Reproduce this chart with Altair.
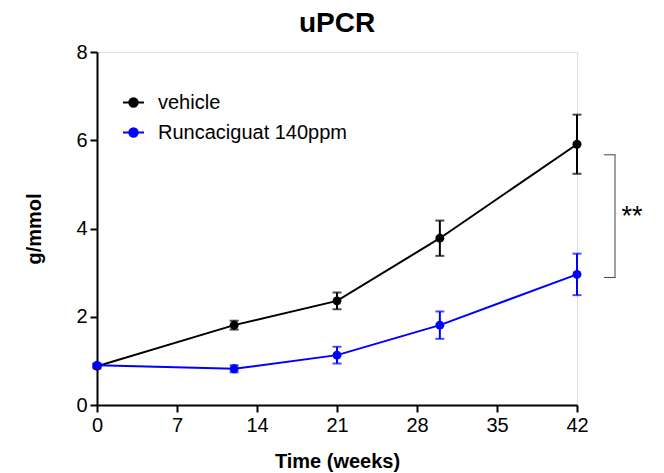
import altair as alt
import pandas as pd

weeks = [0, 12, 21, 30, 42]
vehicle_mean = [0.88, 1.81, 2.36, 3.78, 5.91]
vehicle_sem = [0.05, 0.10, 0.19, 0.40, 0.67]
runc_mean = [0.90, 0.82, 1.13, 1.81, 2.96]
runc_sem = [0.04, 0.08, 0.19, 0.31, 0.47]
groups = ["vehicle", "Runcaciguat 140ppm"]
colors = ["#000000", "#0000ff"]
x_ticks = [0, 7, 14, 21, 28, 35, 42]
y_ticks = [0, 2, 4, 6, 8]
bracket_y = [2.89, 5.67]
sig_label = "**"
sig_y = 4.25

rows = []
for g, means, sems in [(groups[0], vehicle_mean, vehicle_sem), (groups[1], runc_mean, runc_sem)]:
    for w, m, s in zip(weeks, means, sems):
        rows.append({"week": w, "value": m, "lo": m - s, "hi": m + s, "group": g})
df = pd.DataFrame(rows)

FONT = "Liberation Sans"
sym_path = "M-1,0H1M-0.4,0A0.4,0.4,0,1,1,0.4,0A0.4,0.4,0,1,1,-0.4,0Z"

xs = alt.Scale(domain=[0, 42], nice=False, zero=False)
ys = alt.Scale(domain=[0, 8], nice=False)
cscale = alt.Scale(domain=groups, range=colors)
legend = alt.Legend(
    title=None,
    orient="none",
    legendX=25,
    legendY=39,
    padding=0,
    symbolType=sym_path,
    symbolSize=441,
    symbolStrokeWidth=2,
    symbolOpacity=1,
    labelFont=FONT,
    labelFontSize=20,
    labelColor="#000000",
    labelOffset=13,
    labelLimit=400,
    rowPadding=8,
)
color = alt.Color("group:N", scale=cscale, sort=groups, legend=legend)

x_enc = alt.X(
    "week:Q",
    scale=xs,
    title="Time (weeks)",
    axis=alt.Axis(values=x_ticks, grid=False, domainColor="black", domainWidth=2,
                  tickColor="black", tickWidth=2, tickSize=7, labelFont=FONT, labelFontSize=20,
                  labelColor="black", titleFont=FONT, titleFontSize=20, titleFontWeight="bold",
                  titleColor="black", labelPadding=3, titlePadding=16, labelFlush=False),
)
y_enc = alt.Y(
    "value:Q",
    scale=ys,
    title="g/mmol",
    axis=alt.Axis(values=y_ticks, grid=False, domainColor="black", domainWidth=2,
                  tickColor="black", tickWidth=2, tickSize=7, labelFont=FONT, labelFontSize=20,
                  labelColor="black", titleFont=FONT, titleFontSize=20, titleFontWeight="bold",
                  titleColor="black", labelPadding=3, titlePadding=31),
)

base = alt.Chart(df)
lines = base.mark_line(strokeWidth=2).encode(x=x_enc, y=y_enc, color=color)
err = base.mark_rule(strokeWidth=2).encode(x="week:Q", y="lo:Q", y2="hi:Q", color=color)
cap_lo = base.mark_tick(orient="horizontal", size=9, thickness=2).encode(
    x="week:Q", y="lo:Q", color=color)
cap_hi = base.mark_tick(orient="horizontal", size=9, thickness=2).encode(
    x="week:Q", y="hi:Q", color=color)
pts = base.mark_circle(size=80, opacity=1).encode(x="week:Q", y="value:Q", color=color)

bdf = pd.DataFrame({"y": bracket_y})
bracket_v = alt.Chart(pd.DataFrame({"y": [bracket_y[0]], "y2": [bracket_y[1]]})).mark_rule(
    color="#444444", strokeWidth=1, clip=False).encode(
    x=alt.value(518), y="y:Q", y2="y2:Q")
bracket_h = alt.Chart(bdf).mark_rule(color="#444444", strokeWidth=1, clip=False).encode(
    x=alt.value(507), x2=alt.value(518.5), y="y:Q")
sig = alt.Chart(pd.DataFrame({"y": [sig_y], "t": [sig_label]})).mark_text(
    font=FONT, fontSize=27, color="black", align="center", baseline="middle", clip=False).encode(
    x=alt.value(535), y="y:Q", text="t:N")

chart = alt.layer(lines, err, cap_lo, cap_hi, pts, bracket_v, bracket_h, sig).properties(
    width=480,
    height=353,
    title=alt.TitleParams("uPCR", font=FONT, fontSize=28, fontWeight="bold", color="black",
                          anchor="middle", offset=4),
    autosize=alt.AutoSizeParams(type="none"),
    padding={"left": 97, "top": 52, "right": 87, "bottom": 68},
).configure_view(stroke=None).configure(background="white")

chart.save("out.html", embed_options={"renderer": "svg", "actions": False})
